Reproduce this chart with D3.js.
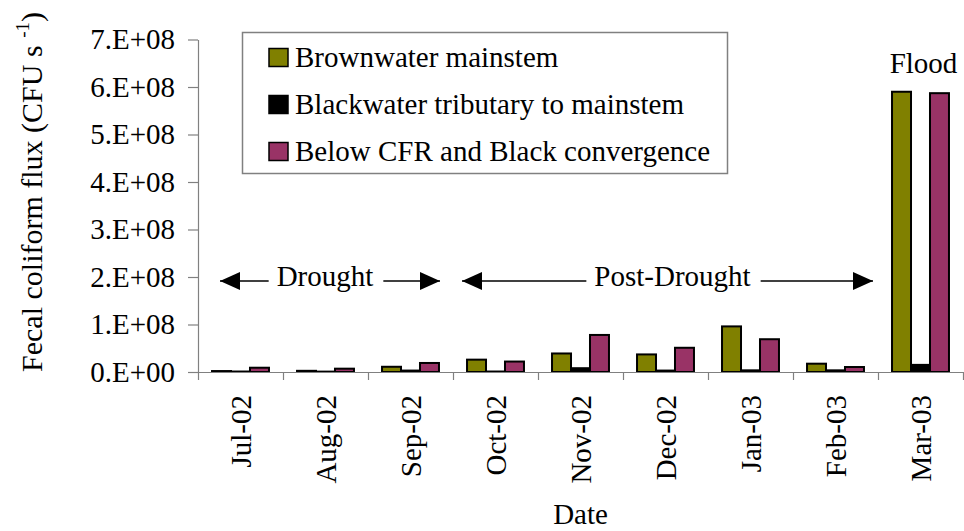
<!DOCTYPE html>
<html>
<head>
<meta charset="utf-8">
<script src="https://cdn.jsdelivr.net/npm/d3@7"></script>
<style>
  body { margin: 0; background: #fff; }
  svg { display: block; font-family: "Liberation Serif", "Times New Roman", serif; }
</style>
</head>
<body>
<div id="chart"></div>
<script>
const months = ["Jul-02", "Aug-02", "Sep-02", "Oct-02", "Nov-02", "Dec-02", "Jan-03", "Feb-03", "Mar-03"];
const seriesNames = ["Brownwater mainstem", "Blackwater tributary to mainstem", "Below CFR and Black convergence"];
const brownwater = [2.0e6, 2.5e6, 1.1e7, 2.6e7, 3.9e7, 3.7e7, 9.6e7, 1.75e7, 5.9e8];
const blackwater = [1.0e6, 0.8e6, 3.0e6, 1.0e6, 8.0e6, 3.0e6, 3.5e6, 3.5e6, 1.5e7];
const below = [9.0e6, 7.0e6, 1.9e7, 2.2e7, 7.8e7, 5.1e7, 6.9e7, 1.05e7, 5.87e8];
const yTicks = [0, 1e8, 2e8, 3e8, 4e8, 5e8, 6e8, 7e8];

const colors = ["#808000", "#000000", "#993366"];
const series = [brownwater, blackwater, below];

const width = 964;
const height = 531;
const margin = { top: 39.5, right: 1, bottom: 159, left: 198 };
const fontSize = 29;

const svg = d3.select("#chart")
  .append("svg")
  .attr("width", width)
  .attr("height", height);

const x = d3.scaleBand()
  .domain(months)
  .range([margin.left, width - margin.right])
  .paddingInner(0.33)
  .paddingOuter(0.165);

const xs = d3.scaleBand()
  .domain(d3.range(series.length))
  .range([0, x.bandwidth()]);

const y = d3.scaleLinear()
  .domain([0, 7e8])
  .range([height - margin.bottom, margin.top]);

// boundaries between months
const xEdge = d3.scaleLinear()
  .domain([0, months.length])
  .range([margin.left, width - margin.right]);

function sci(d) {
  if (d === 0) return "0.E+00";
  const e = Math.floor(Math.log10(d));
  return `${Math.round(d / Math.pow(10, e))}.E+${String(e).padStart(2, "0")}`;
}

// bars
const groups = svg.append("g")
  .selectAll("g")
  .data(months)
  .join("g")
    .attr("transform", d => `translate(${x(d)},0)`);

groups.selectAll("rect")
  .data((d, i) => series.map((s, k) => ({ k, v: s[i] })))
  .join("rect")
    .attr("x", d => xs(d.k))
    .attr("y", d => y(d.v))
    .attr("width", xs.bandwidth())
    .attr("height", d => y(0) - y(d.v))
    .attr("fill", d => colors[d.k])
    .attr("stroke", "#000")
    .attr("stroke-width", 2);

// x axis: line + boundary ticks
svg.append("g")
  .attr("transform", `translate(0,${y(0)})`)
  .call(d3.axisBottom(xEdge).tickValues(d3.range(months.length + 1)).tickFormat("").tickSize(8).tickSizeOuter(0))
  .call(g => g.selectAll("path, line").attr("stroke", "#808080").attr("stroke-width", 1.2));

// x labels
svg.append("g")
  .attr("transform", `translate(0,${y(0)})`)
  .call(d3.axisBottom(x).tickSize(0))
  .call(g => g.select(".domain").remove())
  .call(g => g.selectAll("text")
    .attr("font-size", fontSize)
    .attr("fill", "#000")
    .attr("y", 0)
    .attr("x", -23)
    .attr("dy", "0.35em")
    .attr("transform", "rotate(-90)")
    .attr("text-anchor", "end"))
  .attr("font-family", null)
  .attr("font-size", null);

// y axis
svg.append("g")
  .attr("transform", `translate(${margin.left},0)`)
  .call(d3.axisLeft(y).tickValues(yTicks).tickFormat(sci).tickSize(10).tickPadding(13).tickSizeOuter(0))
  .attr("font-family", null)
  .attr("font-size", fontSize)
  .call(g => g.selectAll("path, line").attr("stroke", "#808080").attr("stroke-width", 1.2))
  .call(g => g.selectAll("text").attr("fill", "#000"));

// axis titles
svg.append("text")
  .attr("x", (margin.left + width - margin.right) / 2)
  .attr("y", 524)
  .attr("text-anchor", "middle")
  .attr("font-size", fontSize)
  .text("Date");

const yl = svg.append("text")
  .attr("transform", "translate(42,192) rotate(-90)")
  .attr("text-anchor", "middle")
  .attr("font-size", 30);
yl.append("tspan").text("Fecal coliform flux (CFU s ");
yl.append("tspan").attr("font-size", 19).attr("dy", -13).text("-1");
yl.append("tspan").attr("dy", 13).text(")");

// legend
const legend = svg.append("g");
legend.append("rect")
  .attr("x", 242.5).attr("y", 32.5)
  .attr("width", 485).attr("height", 141)
  .attr("fill", "#fff")
  .attr("stroke", "#808080")
  .attr("stroke-width", 1.5);

const items = legend.selectAll("g.item")
  .data(seriesNames)
  .join("g")
    .attr("class", "item")
    .attr("transform", (d, i) => `translate(269,${57.5 + i * 47})`);
items.append("rect")
  .attr("x", 0).attr("y", -9)
  .attr("width", 19).attr("height", 18)
  .attr("fill", (d, i) => colors[i])
  .attr("stroke", "#000")
  .attr("stroke-width", 1.5);
items.append("text")
  .attr("x", 26)
  .attr("y", 9)
  .attr("font-size", fontSize)
  .text(d => d);

// period annotations
const defs = svg.append("defs");
defs.append("marker")
  .attr("id", "head")
  .attr("viewBox", "0 0 20 18")
  .attr("refX", 20).attr("refY", 9)
  .attr("markerWidth", 20).attr("markerHeight", 18)
  .attr("markerUnits", "userSpaceOnUse")
  .attr("orient", "auto")
  .append("path")
  .attr("d", "M0,0L20,9L0,18Z")
  .attr("fill", "#000");

const periods = [
  { label: "Drought", x0: 220, x1: 440, cx: 325 },
  { label: "Post-Drought", x0: 462, x1: 873, cx: 672.5 }
];
const arrowY = 281;

periods.forEach(p => {
  const t = svg.append("text")
    .attr("x", p.cx)
    .attr("y", arrowY + 5)
    .attr("text-anchor", "middle")
    .attr("font-size", fontSize)
    .text(p.label);
  const w = t.node().getComputedTextLength();
  svg.append("line")
    .attr("x1", p.cx - w / 2 - 8).attr("x2", p.x0)
    .attr("y1", arrowY).attr("y2", arrowY)
    .attr("stroke", "#000").attr("stroke-width", 1.5)
    .attr("marker-end", "url(#head)");
  svg.append("line")
    .attr("x1", p.cx + w / 2 + 10).attr("x2", p.x1)
    .attr("y1", arrowY).attr("y2", arrowY)
    .attr("stroke", "#000").attr("stroke-width", 1.5)
    .attr("marker-end", "url(#head)");
});

svg.append("text")
  .attr("x", x("Mar-03") + x.bandwidth() / 2 + 3)
  .attr("y", 73)
  .attr("text-anchor", "middle")
  .attr("font-size", fontSize)
  .text("Flood");
</script>
</body>
</html>
